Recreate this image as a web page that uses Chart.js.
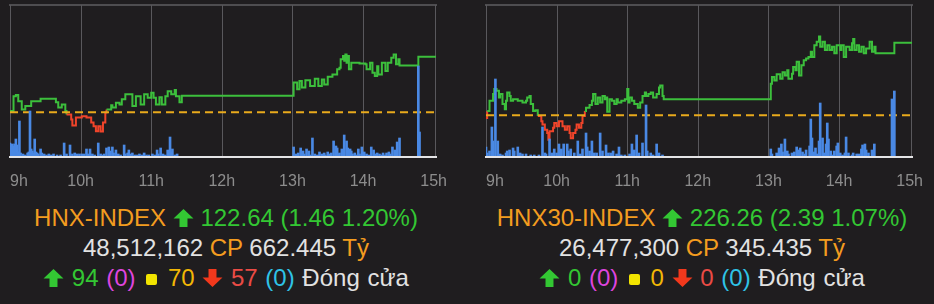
<!DOCTYPE html>
<html>
<head>
<meta charset="utf-8">
<script src="https://cdn.jsdelivr.net/npm/chart.js@4.4.0/dist/chart.umd.min.js"></script>
<style>
  body { margin: 0; background: #1f1d1f; width: 934px; height: 304px; overflow: hidden;
         font-family: "Liberation Sans", Arial, sans-serif; }
  .panel { position: absolute; top: 0; width: 452px; height: 304px; }
  .panel canvas { position: absolute; left: 0; top: 0; }
  .info { position: absolute; left: 0; top: 203px; width: 452px; text-align: center;
          font-size: 24px; line-height: 30px; color: #e2e2e2; white-space: nowrap; }
  .info .counts { word-spacing: 1px; }
  .or { color: #f39c1f; }
  .gr { color: #33c733; }
  .mg { color: #de45de; }
  .yl { color: #f2b705; }
  .rd { color: #ea4b45; }
  .cy { color: #2fc3e6; }
  .arrow { width: 21px; height: 20px; vertical-align: -2px; }
  .sq { display: inline-block; width: 11px; height: 11px; background: #f2e400; border-radius: 2px;
        vertical-align: 1px; margin: 0 3px; }
</style>
</head>
<body>
<div class="panel" style="left:0">
  <canvas id="hnx" width="452" height="200"></canvas>
  <div class="info">
    <div><span class="or">HNX-INDEX</span> <svg class="arrow" viewBox="0 0 20 20" preserveAspectRatio="none"><path d="M10 1 L19.5 10.5 L13.8 10.5 L13.8 19 L6.2 19 L6.2 10.5 L0.5 10.5 Z" fill="#33c733"/></svg> <span class="gr">122.64 (1.46 1.20%)</span></div>
    <div>48,512,162 <span class="or">CP</span> 662.445 <span class="or">Tỷ</span></div>
    <div class="counts"><svg class="arrow" viewBox="0 0 20 20" preserveAspectRatio="none"><path d="M10 1 L19.5 10.5 L13.8 10.5 L13.8 19 L6.2 19 L6.2 10.5 L0.5 10.5 Z" fill="#33c733"/></svg> <span class="gr">94</span> <span class="mg">(0)</span> <span class="sq"></span> <span class="yl">70</span> <svg class="arrow" viewBox="0 0 20 20" preserveAspectRatio="none"><path d="M10 19 L19.5 9.5 L13.8 9.5 L13.8 1 L6.2 1 L6.2 9.5 L0.5 9.5 Z" fill="#f2381c"/></svg> <span class="rd">57</span> <span class="cy">(0)</span> Đóng cửa</div>
  </div>
</div>
<div class="panel" style="left:476px">
  <canvas id="hnx30" width="452" height="200"></canvas>
  <div class="info">
    <div><span class="or">HNX30-INDEX</span> <svg class="arrow" viewBox="0 0 20 20" preserveAspectRatio="none"><path d="M10 1 L19.5 10.5 L13.8 10.5 L13.8 19 L6.2 19 L6.2 10.5 L0.5 10.5 Z" fill="#33c733"/></svg> <span class="gr">226.26 (2.39 1.07%)</span></div>
    <div>26,477,300 <span class="or">CP</span> 345.435 <span class="or">Tỷ</span></div>
    <div class="counts"><svg class="arrow" viewBox="0 0 20 20" preserveAspectRatio="none"><path d="M10 1 L19.5 10.5 L13.8 10.5 L13.8 19 L6.2 19 L6.2 10.5 L0.5 10.5 Z" fill="#33c733"/></svg> <span class="gr">0</span> <span class="mg">(0)</span> <span class="sq"></span> <span class="yl">0</span> <svg class="arrow" viewBox="0 0 20 20" preserveAspectRatio="none"><path d="M10 19 L19.5 9.5 L13.8 9.5 L13.8 1 L6.2 1 L6.2 9.5 L0.5 9.5 Z" fill="#f2381c"/></svg> <span class="rd">0</span> <span class="cy">(0)</span> Đóng cửa</div>
  </div>
</div>
<script>
// times are minutes after the 9:00 open
const OPEN = 540;
const AXIS_END = 362;
const hourLabels = ["9h", "10h", "11h", "12h", "13h", "14h", "15h"];
const gridMinutes = [0, 60, 120, 180, 240, 300, 362];

const UP = "#3cbf3c";
const DOWN = "#f0442a";
const REF_COLOR = "#e9aa1c";
const VOL_COLOR = "#4a89e4";
const GRID_COLOR = "#59585c";

// HNX-INDEX
const hnxRef = 121.18;
const hnxTime = [0, 3, 5, 7, 10, 13, 18, 26, 39, 41, 44, 47, 48, 52, 53, 56, 61, 65, 69, 71, 73, 75, 77, 79,
  81, 82, 86, 87, 90, 93, 95, 98, 104, 107, 111, 114, 117, 120, 122, 124, 127, 129, 132, 134, 137, 140, 141,
  144, 146, 241, 244, 246, 248, 251, 255, 259, 262, 265, 267, 270, 274, 278, 280, 281, 283, 284, 285, 286,
  287, 288, 290, 297, 302, 303, 306, 308, 310, 312, 313, 316, 319, 321, 324, 326, 328, 330, 331, 347, 362];
const hnxValue = [121.21, 121.60, 121.63, 121.47, 121.25, 121.34, 121.47, 121.53, 121.44, 121.30, 121.38,
  121.21, 121.12, 120.99, 120.83, 121.04, 121.07, 121.04, 120.91, 120.81, 120.68, 120.81, 120.67, 120.91,
  121.17, 121.25, 121.36, 121.30, 121.43, 121.38, 121.52, 121.65, 121.34, 121.60, 121.38, 121.65, 121.56,
  121.69, 121.56, 121.38, 121.57, 121.38, 121.60, 121.73, 121.65, 121.76, 121.60, 121.44, 121.61,
  121.96, 121.78, 122.00, 121.83, 122.02, 121.87, 122.06, 121.87, 122.04, 121.91, 122.11, 122.17, 122.31,
  122.35, 122.57, 122.66, 122.53, 122.70, 122.48, 122.66, 122.31, 122.48, 122.46, 122.44, 122.31, 122.48,
  122.22, 122.13, 122.39, 122.17, 122.48, 122.26, 122.48, 122.61, 122.70, 122.44, 122.57, 122.41, 122.64, 122.64];
const hnxVolTime = [0, 1, 2, 3, 4, 5, 6, 7, 8, 9, 11, 13, 15, 16, 17, 18, 19, 20, 21, 22, 23, 24, 26, 27, 29,
  31, 33, 35, 37, 40, 43, 46, 48, 51, 53, 55, 57, 59, 61, 63, 65, 66, 68, 70, 72, 75, 77, 79, 80, 82, 84, 85,
  87, 88, 90, 92, 94, 97, 98, 100, 101, 103, 104, 106, 108, 110, 112, 114, 116, 118, 121, 123, 125, 126, 128,
  130, 132, 134, 136, 137, 138, 140, 142,
  241, 243, 245, 247, 249, 250, 252, 254, 255, 257, 259, 260, 262, 263, 265, 267, 268, 270, 272, 273, 275,
  277, 278, 279, 280, 282, 284, 286, 287, 289, 290, 291, 293, 294, 296, 297, 299, 301, 303, 305, 307, 309,
  310, 312, 314, 316, 317, 319, 320, 322, 323, 325, 327, 329, 331, 347, 348];
const hnxVolume = [14, 9, 13, 11, 13, 18, 12, 5, 36, 4, 3, 2, 4, 5, 46, 8, 6, 4, 18, 5, 4, 3, 8, 4, 3,
  2, 3, 2, 3, 2, 2, 14, 3, 12, 3, 4, 3, 3, 3, 3, 8, 3, 8, 3, 2, 14, 3, 2, 3, 9, 10, 6,
  10, 4, 7, 3, 2, 12, 3, 4, 7, 3, 4, 2, 2, 3, 2, 4, 2, 2, 3, 2, 7, 3, 9,
  3, 2, 7, 20, 5, 8, 2, 3,
  10, 3, 4, 9, 6, 3, 8, 6, 2, 19, 3, 2, 2, 5, 3, 4, 2, 5, 3, 4, 16,
  11, 9, 3, 4, 8, 22, 16, 9, 8, 6, 3, 4, 2, 8, 3, 10, 5, 3, 2, 10, 7,
  3, 4, 3, 2, 4, 2, 4, 5, 3, 10, 7, 15, 19, 91, 25];

// HNX30-INDEX
const hnx30Ref = 223.87;
const hnx30Time = [0, 1, 3, 6, 7, 9, 11, 12, 14, 16, 17, 18, 20, 21, 23, 27, 31, 34, 35, 37, 38, 40, 42, 44,
  47, 48, 50, 52, 53, 54, 57, 58, 60, 62, 65, 67, 69, 71, 72, 74, 76, 77, 79, 81, 82, 84, 85, 88, 90, 91, 93,
  95, 97, 99, 101, 102, 103, 105, 107, 109, 111, 112, 115, 118, 120, 121, 122, 124, 126, 129, 131, 133, 135,
  136, 138, 140, 142, 145, 147, 148, 150, 151,
  242, 243, 245, 247, 250, 252, 254, 256, 257, 260, 261, 263, 264, 266, 268, 270, 272, 274, 276, 277, 279,
  281, 283, 284, 286, 288, 290, 292, 294, 296, 298, 301, 302, 304, 306, 309, 311, 312, 313, 315, 317, 319,
  321, 323, 326, 328, 330, 331, 347, 362];
const hnx30Value = [223.78, 224.01, 224.35, 224.57, 224.74, 224.68, 224.46, 224.57, 224.24, 224.07, 224.35,
  224.62, 224.51, 224.35, 224.40, 224.35, 224.29, 224.35, 224.46, 224.51, 224.24, 224.01, 224.04, 223.85,
  223.68, 223.57, 223.40, 223.29, 223.07, 223.35, 223.46, 223.62, 223.51, 223.68, 223.51, 223.40, 223.51,
  223.29, 223.12, 223.29, 223.40, 223.57, 223.46, 223.62, 223.85, 224.01, 224.12, 224.21, 224.35, 224.57,
  224.24, 224.46, 224.29, 224.51, 224.40, 224.46, 223.99, 224.40, 224.35, 224.24, 224.40, 224.29, 224.35,
  224.40, 224.74, 224.29, 224.46, 224.35, 224.24, 224.12, 224.29, 224.51, 224.62, 224.51, 224.57, 224.62,
  224.46, 224.57, 224.79, 224.85, 224.51, 224.40,
  224.91, 225.13, 225.02, 225.22, 225.07, 225.29, 225.18, 225.35, 225.07, 225.24, 225.46, 225.35, 225.63,
  225.18, 225.52, 225.68, 225.74, 225.79, 225.96, 225.79, 226.18, 226.29, 226.46, 226.13, 226.29, 226.02,
  226.18, 226.02, 226.13, 225.91, 226.18, 226.02, 226.18, 225.79, 226.13, 226.02, 226.24, 226.38, 226.02,
  226.18, 225.96, 226.13, 225.91, 226.07, 226.29, 225.96, 226.13, 225.91, 226.26, 226.26];
const hnx30VolTime = [0, 1, 3, 5, 6, 8, 10, 12, 14, 17, 18, 20, 23, 24, 27, 29, 31, 34, 38, 41, 45, 48, 50,
  51, 54, 56, 58, 60, 62, 64, 66, 69, 70, 72, 75, 78, 80, 82, 85, 86, 88, 90, 92, 94, 97, 99, 102, 104, 106,
  108, 111, 113, 115, 118, 122, 124, 126, 128, 130, 133, 136, 137, 140, 142, 145, 147, 150,
  242, 243, 247, 249, 251, 252, 254, 256, 257, 260, 261, 262, 264, 265, 267, 269, 271, 272, 275, 276, 277,
  279, 280, 281, 283, 284, 286, 287, 289, 290, 291, 293, 295, 296, 298, 299, 301, 303, 305, 306, 308, 311,
  312, 315, 317, 319, 320, 322, 323, 325, 328, 330, 345, 347];
const hnx30Volume = [10, 4, 6, 30, 16, 78, 16, 3, 2, 4, 6, 7, 9, 6, 10, 4, 3, 3, 2, 2, 2, 30, 4,
  3, 18, 4, 8, 4, 13, 8, 13, 13, 6, 8, 4, 16, 3, 8, 24, 10, 6, 16, 4, 4, 24, 6, 12, 4, 4,
  6, 3, 10, 2, 2, 3, 13, 7, 22, 4, 14, 52, 6, 4, 2, 13, 4, 2,
  8, 3, 4, 9, 13, 5, 18, 6, 3, 4, 3, 5, 10, 7, 9, 5, 3, 7, 11, 38, 19,
  5, 9, 3, 16, 54, 19, 4, 13, 34, 18, 6, 2, 6, 11, 14, 4, 2, 4, 20, 4, 2,
  4, 3, 3, 8, 12, 13, 7, 4, 7, 13, 58, 66];

// vertical hour lines, placed through the x scale
const hourGridPlugin = {
  id: "hourGrid",
  beforeDatasetsDraw(chart) {
    const xs = chart.scales.x;
    const area = chart.chartArea;
    const ctx = chart.ctx;
    ctx.save();
    ctx.fillStyle = GRID_COLOR;
    gridMinutes.forEach(m => {
      const px = Math.min(Math.round(xs.getPixelForValue(OPEN + m)), area.right - 1);
      ctx.fillRect(px, area.top, 1, area.bottom - area.top);
    });
    ctx.restore();
  }
};

const hourLabelPlugin = {
  id: "hourLabels",
  afterDraw(chart) {
    const xs = chart.scales.x;
    const area = chart.chartArea;
    const ctx = chart.ctx;
    ctx.save();
    ctx.font = "16px 'Liberation Sans', Arial, sans-serif";
    ctx.fillStyle = "#8d8d8d";
    ctx.textBaseline = "middle";
    hourLabels.forEach((label, i) => {
      ctx.textAlign = i === 0 ? "left" : "center";
      const px = i === 0 ? area.left : xs.getPixelForValue(OPEN + i * 60);
      ctx.fillText(label, px, area.bottom + 25);
    });
    ctx.restore();
  }
};

function drawPanel(id, times, values, volTimes, volumes, ref, yMin, yMax) {
  const line = times.map((t, i) => ({ x: OPEN + t, y: values[i] }));
  const bars = volTimes.map((t, i) => ({ x: OPEN + t, y: volumes[i] }));
  const refLine = [{ x: OPEN, y: ref }, { x: OPEN + AXIS_END, y: ref }];

  new Chart(document.getElementById(id), {
    data: {
      datasets: [
        {
          type: "bar", data: bars, xAxisID: "x", yAxisID: "yVol",
          backgroundColor: VOL_COLOR, barThickness: 2, order: 0
        },
        {
          type: "line", data: refLine, xAxisID: "x", yAxisID: "y",
          borderColor: REF_COLOR, borderWidth: 2, borderDash: [8, 5], pointRadius: 0, order: 1
        },
        {
          type: "line", data: line, xAxisID: "x", yAxisID: "y", stepped: true,
          borderColor: UP, borderWidth: 2, pointRadius: 0, order: 2,
          segment: { borderColor: c => (c.p0.parsed.y < ref ? DOWN : UP) }
        }
      ]
    },
    options: {
      responsive: false,
      animation: false,
      devicePixelRatio: 1,
      layout: { padding: { left: 10, top: 5, right: 16, bottom: 43 } },
      plugins: { legend: { display: false }, tooltip: { enabled: false } },
      scales: {
        x: {
          type: "linear", position: "bottom", min: OPEN, max: OPEN + AXIS_END, offset: false,
          afterBuildTicks: s => { s.ticks = gridMinutes.map(m => ({ value: OPEN + m })); },
          ticks: { display: false },
          grid: { display: false, drawTicks: false, offset: false },
          border: { display: true, color: "#e4e4e6", width: 2, z: 1 }
        },
        xTop: {
          type: "linear", position: "top", min: OPEN, max: OPEN + AXIS_END, offset: false,
          ticks: { display: false },
          grid: { display: false, drawTicks: false },
          border: { display: true, color: "#4e4d50", width: 2 }
        },
        y: { display: false, min: yMin, max: yMax },
        yVol: { display: false, min: 0, max: 152 }
      }
    },
    plugins: [hourGridPlugin, hourLabelPlugin]
  });
}

drawPanel("hnx", hnxTime, hnxValue, hnxVolTime, hnxVolume, hnxRef, 120, 124);
drawPanel("hnx30", hnx30Time, hnx30Value, hnx30VolTime, hnx30Volume, hnx30Ref, 222.5, 227.5);
</script>
</body>
</html>
